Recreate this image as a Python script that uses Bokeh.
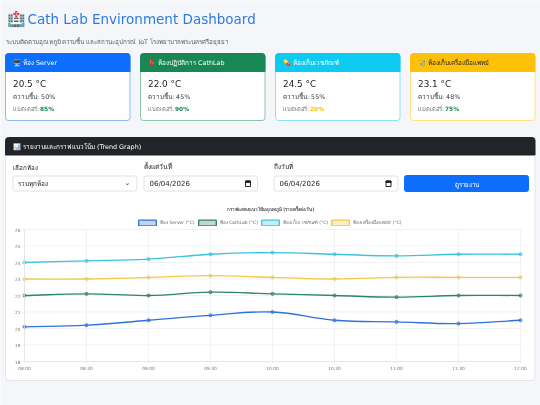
from bokeh.embed import file_html
from bokeh.resources import INLINE
from bokeh.models import BoxAnnotation, Label, Legend, LegendItem, Range1d, FixedTicker
from bokeh.plotting import figure

# --- data ---
times = ["08:00", "08:30", "09:00", "09:30", "10:00", "10:30", "11:00", "11:30", "12:00"]
server = [20.1, 20.2, 20.5, 20.8, 21.0, 20.5, 20.4, 20.3, 20.5]
cathlab = [22.0, 22.1, 22.0, 22.2, 22.1, 22.0, 21.9, 22.0, 22.0]
medicine = [24.0, 24.1, 24.2, 24.5, 24.6, 24.5, 24.4, 24.5, 24.5]
instrument = [23.0, 23.0, 23.1, 23.2, 23.1, 23.0, 23.1, 23.1, 23.1]
series_names = ["ห้อง Server (°C)", "ห้อง CathLab (°C)", "ห้องเก็บเวชภัณฑ์ (°C)", "ห้องเครื่องมือแพทย์ (°C)"]
series_colors = ["#2f72dc", "#2e8560", "#3cc3e0", "#f5c842"]
y_ticks = [18, 19, 20, 21, 22, 23, 24, 25, 26]

card_titles = ["🖥️ ห้อง Server", "🫀 ห้องปฏิบัติการ CathLab", "💊 ห้องเก็บเวชภัณฑ์", "🩺 ห้องเก็บเครื่องมือแพทย์"]
card_temps = ["20.5 °C", "22.0 °C", "24.5 °C", "23.1 °C"]
card_hum = ["ความชื้น: 50%", "ความชื้น: 45%", "ความชื้น: 55%", "ความชื้น: 48%"]
card_batt = ["85%", "90%", "20%", "75%"]

W, H = 540, 405
BG = "#f4f6f9"
FONT = "DejaVu Sans"
L, R, T, B = 24, 520, 229, 361
PX = (R - L) / (len(times) - 1)
PY = (B - T) / (y_ticks[-1] - y_ticks[0])

p = figure(width=W, height=H, output_backend="svg", toolbar_location=None,
           x_range=Range1d(-L / PX, (W - L) / PX),
           y_range=Range1d(y_ticks[0] - (H - B) / PY, y_ticks[0] + B / PY),
           min_border=0, background_fill_color=BG, border_fill_color=BG, outline_line_color=None,
           styles={"position": "fixed", "left": "0px", "top": "0px"})


def box(x0, y0, x1, y1, fill, line=None, radius=0):
    p.add_layout(BoxAnnotation(left=x0, right=x1, top=y0, bottom=y1,
                               left_units="canvas", right_units="canvas", top_units="canvas", bottom_units="canvas",
                               fill_color=fill, fill_alpha=1, line_color=line, line_alpha=1 if line else 0,
                               line_width=1, border_radius=radius, level="underlay"))


def text(x, y, s, size=7, color="#212529", style="normal", align="left", font=FONT):
    p.add_layout(Label(x=x, y=y, text=s, x_units="canvas", y_units="canvas", text_font=font,
                       text_font_size=f"{size}px", text_color=color, text_font_style=style,
                       text_align=align, text_baseline="middle"))


# --- page chrome ---
text(6, 18, "🏥", 15)
text(27, 18, "Cath Lab Environment Dashboard", 13.5, "#2f7be0")
text(5, 41, "ระบบติดตามอุณหภูมิ ความชื้น และสถานะอุปกรณ์ IoT โรงพยาบาลพระนครศรีอยุธยา", 6.2, "#555c63")

card_x = [5, 140, 275, 410]
card_head = ["#0d6efd", "#198754", "#0dcaf0", "#ffc107"]
card_border = ["#8db9f5", "#8cc3aa", "#86e4f7", "#ffe083"]
head_text = ["#ffffff", "#ffffff", "#ffffff", "#212529"]
batt_colors = ["#198754", "#198754", "#ffc107", "#198754"]
TOP_ROUND = (3, 3, 0, 0)
for i, x in enumerate(card_x):
    box(x, 53, x + 124.5, 120, "#ffffff", card_border[i], 3)
    box(x, 53, x + 124.5, 71, card_head[i], card_head[i], TOP_ROUND)
    text(x + 7.5, 62, card_titles[i], 6.4, head_text[i])
    text(x + 7.5, 83, card_temps[i], 8.9, "#212529")
    text(x + 7.5, 96, card_hum[i], 6.3, "#343a40")
    text(x + 7.5, 108.5, "แบตเตอรี่:", 5.8, "#6c757d")
    text(x + 34.5, 108.5, card_batt[i], 5.9, batt_colors[i], "bold")

box(5, 137, 534.5, 380, "#ffffff", "#e3e6ea", 3)
box(5, 137, 534.5, 154.5, "#212529", "#212529", TOP_ROUND)
text(12.5, 146, "📊 รายงานและกราฟแนวโน้ม (Trend Graph)", 6.4, "#ffffff")

text(12.5, 166.5, "เลือกห้อง", 6.2, "#212529")
text(143.5, 166.5, "ตั้งแต่วันที่", 6.8, "#212529")
text(273, 166.5, "ถึงวันที่", 6.4, "#212529")
for x0, x1 in [(12.5, 136.5), (143.5, 257), (273.5, 397.5)]:
    box(x0, 175.5, x1, 190.5, "#ffffff", "#dee2e6", 2)
text(17.5, 183.5, "รวมทุกห้อง", 6.4, "#212529")
text(127, 182.5, "⌄", 7, "#343a40", align="center")
for x in (149, 279):
    text(x, 183.5, "06/04/2026", 7, "#212529")
for xc in (257 - 9.5, 397.5 - 9.5):
    box(xc - 2.5, 180.5, xc + 2.5, 186, "#ffffff", "#212529", 0)
    box(xc - 2.5, 180.5, xc + 2.5, 182, "#212529", "#212529", 0)
box(404, 175, 528, 191, "#0d6efd", "#0d6efd", 2)
text(466, 183.5, "ดูรายงาน", 6.2, "#ffffff", align="center")

text(270, 208.5, "กราฟแสดงแนวโน้มอุณหภูมิ (รายครั้งต่อวัน)", 4.6, "#555555", "bold", "center")

# --- chart ---
GRID = "#e9ecef"
xs = list(range(len(times)))
p.grid.visible = False
p.segment(x0=xs, x1=xs, y0=y_ticks[0], y1=y_ticks[-1], line_color=GRID, line_width=0.7)
p.segment(x0=xs[0], x1=xs[-1], y0=y_ticks, y1=y_ticks, line_color=GRID, line_width=0.7)
p.xaxis.ticker = FixedTicker(ticks=xs)
p.xaxis.major_label_overrides = {i: t for i, t in enumerate(times)}
p.yaxis.ticker = FixedTicker(ticks=y_ticks)
p.xaxis.fixed_location = y_ticks[0]
p.yaxis.fixed_location = xs[0]
p.xaxis.bounds = (xs[0], xs[-1])
p.yaxis.bounds = (y_ticks[0], y_ticks[-1])
for ax in (p.xaxis[0], p.yaxis[0]):
    ax.axis_line_color = "#dfe1e4"
    ax.axis_line_width = 0.7
    ax.major_tick_line_color = "#e4e6e8"
    ax.major_tick_line_width = 0.7
    ax.major_tick_in = 0
    ax.major_tick_out = 2
    ax.minor_tick_line_color = None
    ax.major_label_text_font = FONT
    ax.major_label_text_font_size = "4.3px"
    ax.major_label_text_color = "#777777"
    ax.major_label_standoff = 2

TENSION = 0.4


def curve_controls(xs, ys):
    """Chart.js style tangent control points, computed in pixel space."""
    c1, c2 = [], []
    n = len(xs)
    for i in range(n):
        a = max(i - 1, 0)
        b = min(i + 1, n - 1)
        d01 = ((xs[i] - xs[a]) ** 2 * PX ** 2 + (ys[i] - ys[a]) ** 2 * PY ** 2) ** 0.5
        d12 = ((xs[b] - xs[i]) ** 2 * PX ** 2 + (ys[b] - ys[i]) ** 2 * PY ** 2) ** 0.5
        s = d01 + d12
        fa, fb = TENSION * d01 / s, TENSION * d12 / s
        c1.append((xs[i] - fa * (xs[b] - xs[a]), ys[i] - fa * (ys[b] - ys[a])))
        c2.append((xs[i] + fb * (xs[b] - xs[a]), ys[i] + fb * (ys[b] - ys[a])))
    return c1, c2


items = []
NAN = float("nan")
for values, name, col in zip([server, cathlab, medicine, instrument], series_names, series_colors):
    c1, c2 = curve_controls(xs, values)
    p.bezier(x0=xs[:-1], y0=values[:-1], x1=xs[1:], y1=values[1:],
             cx0=[c[0] for c in c2[:-1]], cy0=[c[1] for c in c2[:-1]],
             cx1=[c[0] for c in c1[1:]], cy1=[c[1] for c in c1[1:]],
             line_color=col, line_width=1.3)
    p.scatter(xs, values, size=3.2, fill_color=col, fill_alpha=0.55, line_color=col, line_width=0.7)
    swatch = p.quad(left=[NAN], right=[NAN], top=[NAN], bottom=[NAN], fill_color=col, fill_alpha=0.3,
                    line_color=col, line_width=1.3)
    items.append(LegendItem(label=name, renderers=[swatch]))

legend = Legend(items=items, orientation="horizontal", location=(136, H - 226),
                background_fill_alpha=0, border_line_color=None, padding=3, margin=0, spacing=1,
                glyph_width=22, glyph_height=7, label_standoff=2, label_height=6,
                label_text_font=FONT, label_text_font_size="4.5px", label_text_color="#666666")
p.add_layout(legend)

open("out.html", "w").write(file_html(p, INLINE))
